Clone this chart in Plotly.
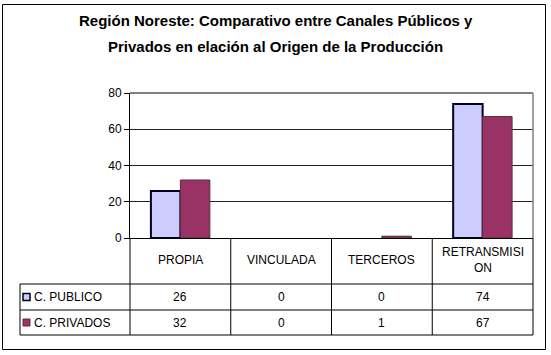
import plotly.graph_objects as go

categories = ["PROPIA", "VINCULADA", "TERCEROS", "RETRANSMISION"]
header_labels = ["PROPIA", "VINCULADA", "TERCEROS", "RETRANSMISI<br>ON"]
series_names = ["C. PUBLICO", "C. PRIVADOS"]
publico = [26, 0, 0, 74]
privados = [32, 0, 1, 67]
y_ticks = [0, 20, 40, 60, 80]

title_line1 = "Región Noreste: Comparativo entre Canales Públicos y"
title_line2 = "Privados en elación al Origen de la Producción"

FONT = "Liberation Sans, Arial, sans-serif"
W, H = 551, 355
L, R, T, B = 130, 18, 93, 117
PW, PH = W - L - R, H - T - B


def px(p):
    return (p - L) / PW


def py(p):
    return (H - B - p) / PH


fig = go.Figure()
fig.add_trace(go.Bar(x=categories, y=publico, name=series_names[0],
                     marker=dict(color="#CCCCFF",
                                 line=dict(color="#000022",
                                           width=[2 if v > 0 else 0 for v in publico]))))
fig.add_trace(go.Bar(x=categories, y=privados, name=series_names[1],
                     marker=dict(color="#993366",
                                 line=dict(color="#5a2a40",
                                           width=[1 if v > 0 else 0 for v in privados]))))

shapes = []
# outer frame
shapes.append(dict(type="rect", xref="paper", yref="paper", x0=px(2.5), x1=px(545.5),
                   y0=py(349.5), y1=py(4.5), line=dict(color="black", width=1)))
# plot area top/right border (gray)
shapes.append(dict(type="line", xref="paper", yref="paper", x0=0, x1=1, y0=1, y1=1,
                   line=dict(color="#808080", width=2)))
shapes.append(dict(type="line", xref="paper", yref="paper", x0=1, x1=1, y0=0, y1=1,
                   line=dict(color="#808080", width=1.5)))
# data table lines
tl = px(20)
for yy in (284, 310, 335):
    shapes.append(dict(type="line", xref="paper", yref="paper", x0=tl, x1=1,
                       y0=py(yy), y1=py(yy), line=dict(color="black", width=1)))
shapes.append(dict(type="line", xref="paper", yref="paper", x0=tl, x1=tl,
                   y0=py(284), y1=py(335), line=dict(color="black", width=1)))
for xx in (0, 1):
    shapes.append(dict(type="line", xref="paper", yref="paper", x0=xx, x1=xx,
                       y0=0, y1=py(335), line=dict(color="black", width=1)))
for i in range(len(categories) - 1):
    shapes.append(dict(type="line", xref="x", yref="paper", x0=i + 0.5, x1=i + 0.5,
                       y0=0, y1=py(335), line=dict(color="black", width=1)))
# legend keys
row_centers = [297, 322.5]
key_styles = [("#CCCCFF", "#000022", 1.5), ("#993366", "#5a2a40", 1)]
for rc, (fc, lc, lw) in zip(row_centers, key_styles):
    shapes.append(dict(type="rect", xref="paper", yref="paper", x0=px(23), x1=px(30),
                       y0=py(rc + 3.5), y1=py(rc - 3.5), fillcolor=fc,
                       line=dict(color=lc, width=lw)))

ann = []
ann.append(dict(text="<b>" + title_line1 + "</b>", xref="paper", yref="paper",
                x=px(275.5), y=py(21), showarrow=False, xanchor="center", yanchor="middle",
                font=dict(family=FONT, size=15, color="black")))
ann.append(dict(text="<b>" + title_line2 + "</b>", xref="paper", yref="paper",
                x=px(275.5), y=py(46), showarrow=False, xanchor="center", yanchor="middle",
                font=dict(family=FONT, size=15, color="black")))
for cat, lab in zip(categories, header_labels):
    ann.append(dict(text=lab, xref="x", yref="paper", x=cat, y=py(260), showarrow=False,
                    xanchor="center", yanchor="middle",
                    font=dict(family=FONT, size=12, color="black")))
for name, vals, rc in zip(series_names, [publico, privados], row_centers):
    ann.append(dict(text=name, xref="paper", yref="paper", x=px(32), y=py(rc),
                    showarrow=False, xanchor="left", yanchor="middle",
                    font=dict(family=FONT, size=12, color="black")))
    for cat, v in zip(categories, vals):
        ann.append(dict(text=str(v), xref="x", yref="paper", x=cat, y=py(rc),
                        showarrow=False, xanchor="center", yanchor="middle",
                        font=dict(family=FONT, size=12, color="black")))

fig.update_layout(
    width=W, height=H,
    margin=dict(l=L, r=R, t=T, b=B, pad=0),
    paper_bgcolor="white", plot_bgcolor="white",
    barmode="group", bargap=0.415, bargroupgap=0,
    showlegend=False,
    font=dict(family=FONT, size=12, color="black"),
    shapes=shapes, annotations=ann,
    xaxis=dict(showticklabels=False, ticks="", showgrid=False, zeroline=False,
               showline=True, linecolor="black", linewidth=1,
               range=[-0.5, len(categories) - 0.5]),
    yaxis=dict(range=[0, 80], tickvals=y_ticks, ticks="outside", ticklen=5,
               tickcolor="black", showline=True, linecolor="black", linewidth=1,
               showgrid=True, gridcolor="#222222", gridwidth=1, zeroline=False,
               tickfont=dict(family=FONT, size=12, color="black")),
)

fig.write_html("out.html", config={"displayModeBar": False},
               post_script="document.body.style.margin='0';document.body.style.padding='0';")
